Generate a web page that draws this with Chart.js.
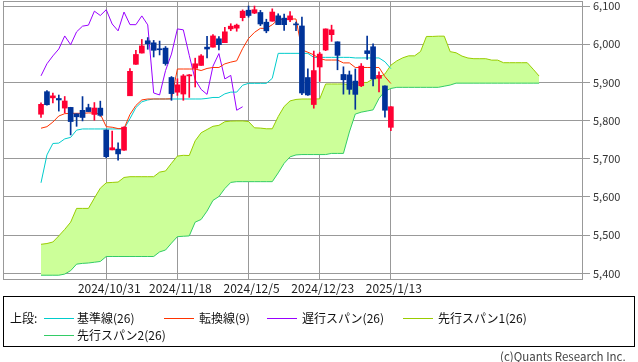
<!DOCTYPE html>
<html><head><meta charset="utf-8">
<script src="https://cdn.jsdelivr.net/npm/chart.js@4.4.1/dist/chart.umd.min.js"></script>
<style>
html,body{margin:0;padding:0;background:#fff;}
#wrap{position:relative;width:638px;height:362px;overflow:hidden;font-family:"Noto Sans CJK JP","Noto Sans",sans-serif;}
canvas{position:absolute;left:0;top:0;}
#box{position:absolute;left:3px;top:296px;width:632px;height:51px;border:1px solid #000;box-sizing:border-box;}
.t{position:absolute;font-size:12px;line-height:14px;color:#111;white-space:nowrap;}
.l{position:absolute;height:1px;width:30px;}
#credit{position:absolute;left:500px;top:349px;width:118px;text-align:right;font-size:11.5px;line-height:14px;color:#444;white-space:nowrap;}
</style></head>
<body><div id="wrap"><canvas id="c" width="638" height="362"></canvas>
<div id="box"></div>
<div class="t" style="left:10px;top:311px">上段:</div>
<div class="l" style="left:44px;top:318px;background:#00cccc"></div><div class="t" style="left:77px;top:311px">基準線(26)</div>
<div class="l" style="left:164px;top:318px;background:#ff3300"></div><div class="t" style="left:199px;top:311px">転換線(9)</div>
<div class="l" style="left:267px;top:318px;background:#9900ff"></div><div class="t" style="left:302px;top:311px">遅行スパン(26)</div>
<div class="l" style="left:403px;top:318px;background:#99cc00"></div><div class="t" style="left:438px;top:311px">先行スパン1(26)</div>
<div class="l" style="left:44px;top:335px;background:#33cc66"></div><div class="t" style="left:77px;top:328px">先行スパン2(26)</div>
<div id="credit">(c)Quants Research Inc.</div>
</div>
<script>
// ---- data (index 0 = 2024/10/16 ... 59 = 2025/1/13) ----
const tickIndex  = [11, 23, 35, 47, 59];
const tickLabels = ['2024/10/31', '2024/11/18', '2024/12/5', '2024/12/23', '2025/1/13'];

const open  = [5816.6,5875.6,5859.4,5857.8,5832.7,5834.5,5817.8,5826.8,5833.9,5816.0,
               5832.6,5775.3,5723.2,5725.2,5722.4,5864.9,5947.3,5976.8,6008.9,6003.6,
               5985.8,5989.7,5912.8,5874.2,5869.5,5917.0,5937.0,5944.4,5992.3,5992.3,
               6014.1,6003.9,6040.1,6042.0,6069.4,6089.0,6081.4,6083.0,6057.6,6060.2,
               6074.3,6068.2,6063.8,6052.6,6047.7,5912.7,5842.0,5940.3,5984.7,6025.0,
               6006.2,5920.7,5919.7,5903.3,5891.1,5982.8,5993.3,5910.7,5890.7,5782.3];
const high  = [5846.5,5878.5,5872.2,5866.9,5863.0,5834.8,5817.8,5862.8,5842.9,5847.2,
               5850.9,5775.3,5772.5,5741.4,5783.4,5936.1,5983.8,6012.5,6017.3,6009.9,
               6008.2,5993.9,5915.3,5909.5,5920.6,5920.7,5963.4,5972.9,6020.8,6025.4,
               6020.2,6044.2,6053.6,6052.7,6089.8,6100.0,6099.9,6088.5,6065.4,6092.6,
               6079.7,6078.6,6085.2,6057.7,6070.7,5935.5,5982.1,5978.3,6040.1,6049.8,
               6006.2,5940.8,5929.7,5935.1,5949.3,6021.0,6000.7,5927.9,5890.7,5836.8];
const low   = [5808.3,5840.2,5846.1,5824.8,5820.0,5762.4,5784.9,5799.1,5823.1,5800.8,
               5811.3,5702.6,5723.2,5696.5,5722.1,5864.9,5947.3,5976.8,5986.7,5966.5,
               5971.8,5944.9,5853.0,5865.9,5853.1,5860.6,5887.9,5944.4,5963.9,5992.3,
               5984.9,6003.9,6035.3,6033.9,6061.1,6070.7,6080.0,6048.6,6029.9,6060.2,
               6051.2,6035.8,6059.1,6035.2,5867.8,5866.1,5832.3,5902.6,5983.0,6007.4,
               5933.0,5869.2,5868.9,5829.5,5888.7,5960.0,5890.7,5874.8,5809.2,5773.4];
const close = [5842.5,5841.5,5864.7,5854.0,5851.2,5797.4,5809.9,5808.1,5823.5,5832.9,
               5813.7,5705.5,5728.8,5712.7,5782.8,5929.0,5973.1,5995.5,6001.4,5984.0,
               5985.4,5949.2,5870.6,5893.6,5917.0,5917.1,5948.7,5969.3,5987.4,6021.6,
               5998.7,6032.4,6047.2,6049.9,6086.5,6075.1,6090.3,6052.9,6034.9,6084.2,
               6051.2,6051.1,6074.1,6050.6,5872.2,5867.1,5930.9,5974.1,6040.0,6037.6,
               5970.8,5906.9,5881.6,5868.6,5942.5,5975.4,5909.0,5918.3,5827.0,5836.2];

// 転換線(9)
const tenkan = [5780,5784,5796,5812,5818,5819,5819,5819,5820,5820,
                5817,5784,5782.5,5779,5779,5816,5839.5,5854,5856.5,5856.5,
                5856.5,5856.5,5857,5935,5935,5935,5935,5931,5936.5,5939,
                5939,5948.5,5953,5956.5,5988.5,6015,6031,6041.5,6041.5,6051,
                6064.5,6064.5,6066,6066,5985,5979,5972,5962,5958.5,5958.5,
                5958.5,5951,5951,5939,5939,5939,5939,5939,5915,5897];
// 基準線(26)
const kijun  = [5637,5710,5740,5741,5752,5756,5775,5778,5778,5778,
                5778,5778,5778,5778,5778,5805,5834,5849,5854,5856.5,
                5856.5,5856.5,5856.5,5856.5,5856.5,5856.5,5856.5,5856.5,5858,5860.5,
                5860.5,5870,5874.5,5874.5,5892.5,5897.5,5897.5,5897.5,5897.5,5910.5,
                5976,5976,5976,5976,5976,5976,5965.5,5965.5,5965.5,5965.5,
                5965.5,5965.5,5965.5,5964,5964,5964,5964,5964,5954,5936];
// 遅行スパン(26): closes plotted this many sessions earlier
const laggingShift = 25;
// 先行スパン1(26), index 0..84
const span1 = [5476,5478,5482,5498,5515,5534,5570,5570,5570,5597,
               5623,5637,5638,5639,5651,5653,5653,5653,5653,5653,
               5665,5668,5688,5707,5709,5708.5,5747,5768,5776.5,5785,
               5787.5,5797,5798.5,5799,5799,5797.5,5781,5780.3,5778.5,5778.5,
               5810.5,5836.8,5851.5,5855.3,5856.5,5856.5,5856.5,5856.8,5895.8,5895.8,
               5895.8,5895.8,5893.8,5897.3,5899.8,5899.8,5909.3,5913.8,5922,5945,
               5956.3,5964.3,5969.5,5969.5,5980.8,6020.3,6020.3,6021,6021,5980.5,
               5977.5,5968.8,5963.8,5962,5962,5962,5958.3,5958.3,5951.5,5951.5,
               5951.5,5951.5,5951.5,5934.5,5916.5];
// 先行スパン2(26), index 0..84
const span2 = [5395,5395,5395,5395,5398,5407,5424,5426,5427,5429,
               5431,5444,5444,5444,5444,5444,5444,5444,5444,5444,
               5456,5461,5479,5496,5497,5498,5534,5541,5563,5591,
               5601,5622,5638,5640,5640,5640,5640,5640,5640,5640,
               5663,5688,5705,5710,5711,5711,5711,5711,5711,5714,
               5714,5714,5770,5817,5822,5825,5828,5858,5877,5884,
               5887,5887,5887,5887,5887,5887,5887,5887,5890,5893,
               5898,5898,5898,5898,5898,5898,5898,5898,5898,5898,
               5898,5898,5898,5898,5898];

// ---- styles ----
const UP = '#ff0033', DOWN = '#003399';
const candleColors = close.map((c, i) => c >= open[i] ? UP : DOWN);
const pts = arr => arr.map((v, i) => ({x: i, y: v}));

const frame = {
  id: 'frame',
  beforeDatasetsDraw(chart) {
    const {ctx, chartArea: a} = chart;
    ctx.save();
    ctx.strokeStyle = '#999';
    ctx.lineWidth = 1;
    ctx.strokeRect(a.left + 0.5, a.top + 0.5, a.right - a.left - 1, a.bottom - a.top - 1);
    ctx.restore();
  }
};

const lineBase = {type: 'line', pointRadius: 0, borderWidth: 1, tension: 0, fill: false};
const fontFamily = '"Noto Sans CJK JP", "DejaVu Sans", sans-serif';

new Chart(document.getElementById('c'), {
  type: 'line',
  data: {
    datasets: [
      {type: 'bar', label: 'body', data: open.map((o, i) => ({x: i, y: [o, close[i]]})),
       backgroundColor: candleColors, barThickness: 5, grouped: false, minBarLength: 1, borderWidth: 0, order: 0},
      {type: 'bar', label: 'wick', data: low.map((l, i) => ({x: i, y: [l, high[i]]})),
       backgroundColor: candleColors, barThickness: 1, grouped: false, borderWidth: 0, order: 1},
      {...lineBase, label: '転換線(9)', data: pts(tenkan), borderColor: '#ff3300', order: 2},
      {...lineBase, label: '基準線(26)', data: pts(kijun), borderColor: '#00cccc', order: 2},
      {...lineBase, label: '遅行スパン(26)', data: close.slice(laggingShift).map((c, k) => ({x: k, y: c})), borderColor: '#9900ff', order: 2},
      {...lineBase, label: '先行スパン1(26)', data: pts(span1), borderColor: '#99cc00',
       fill: {target: '+1'}, backgroundColor: '#ccff99', order: 4},
      {...lineBase, label: '先行スパン2(26)', data: pts(span2), borderColor: '#33cc66', order: 3}
    ]
  },
  options: {
    responsive: false,
    animation: false,
    devicePixelRatio: 1,
    layout: {padding: {left: 3, top: 1, right: 0, bottom: 0}, autoPadding: false},
    plugins: {legend: {display: false}, tooltip: {enabled: false}},
    scales: {
      x: {
        type: 'linear', min: -6.41, max: 91.4, offset: false, bounds: 'data',
        afterBuildTicks: s => { s.ticks = tickIndex.map(v => ({value: v})); },
        afterFit: s => { s.height = 82; s.paddingLeft = 0; s.paddingRight = 0; },
        grid: {color: '#999', lineWidth: 1, drawTicks: false, offset: false},
        border: {display: false},
        ticks: {
          autoSkip: false, maxRotation: 0, minRotation: 0, padding: 1, labelOffset: 3,
          color: '#222', font: {family: fontFamily, size: 12},
          callback: v => { const k = tickIndex.indexOf(v); return k >= 0 ? tickLabels[k] : ''; }
        }
      },
      y: {
        type: 'linear', position: 'right', min: 5382.5, max: 6113.1,
        afterFit: s => { s.width = 55; s.paddingTop = 0; s.paddingBottom = 0; },
        grid: {color: '#999', lineWidth: 1, tickLength: 7},
        border: {display: false},
        ticks: {
          stepSize: 100, includeBounds: false, padding: 3,
          color: '#333', font: {family: fontFamily, size: 11},
          callback: v => v.toLocaleString('en-US')
        }
      }
    }
  },
  plugins: [frame]
});
</script>
</body></html>
